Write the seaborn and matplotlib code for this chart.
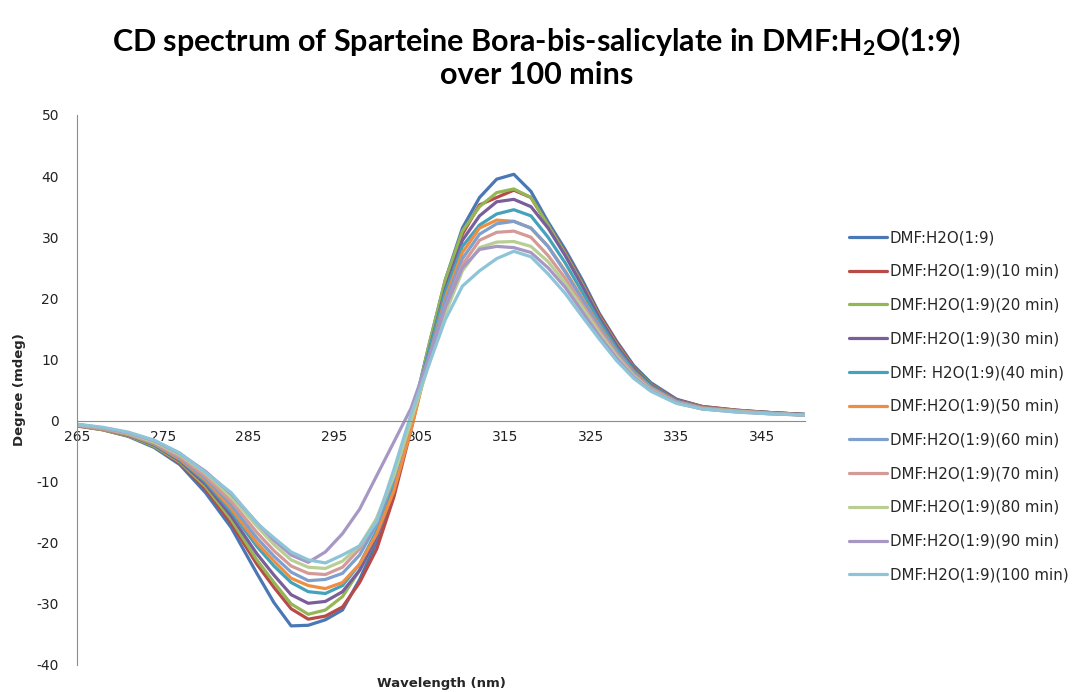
import pandas as pd
import matplotlib
matplotlib.use('Agg')
import matplotlib.pyplot as plt
import seaborn as sns

wavelength = [265, 268, 271, 274, 277, 280, 283, 286, 288, 290, 292, 294, 296, 298, 300, 302, 304, 306,
              308, 310, 312, 314, 316, 318, 320, 322, 324, 326, 328, 330, 332, 335, 338, 342, 346, 350]

t0 = [-0.8, -1.5, -2.6, -4.4, -7.2, -11.8, -17.5, -25.0, -29.8, -33.6, -33.5, -32.6, -31.0, -26.0, -19.8, -10.9, 0.0, 11.8,
      23.0, 31.5, 36.5, 39.5, 40.3, 37.5, 32.5, 28.0, 23.0, 17.5, 13.0, 9.0, 6.2, 3.5, 2.3, 1.7, 1.3, 1.0]
t10 = [-0.9, -1.5, -2.5, -4.2, -7.0, -11.2, -16.8, -23.5, -27.3, -30.8, -32.5, -32.0, -30.5, -26.5, -21.0, -12.5, -1.5, 10.2,
       21.5, 30.5, 35.3, 36.5, 37.7, 36.5, 32.0, 27.5, 22.5, 17.3, 12.8, 8.8, 6.0, 3.4, 2.3, 1.7, 1.3, 1.0]
t20 = [-0.8, -1.5, -2.5, -4.2, -6.8, -10.8, -16.2, -22.8, -26.5, -30.0, -31.7, -31.0, -28.8, -24.5, -19.0, -11.0, -0.5, 11.8,
       23.0, 31.0, 35.0, 37.3, 37.9, 36.5, 32.0, 27.3, 22.3, 17.0, 12.5, 8.6, 5.9, 3.3, 2.2, 1.6, 1.3, 1.0]
t30 = [-0.8, -1.4, -2.4, -4.0, -6.6, -10.4, -15.6, -21.8, -25.3, -28.5, -29.9, -29.6, -28.0, -24.5, -19.0, -11.0, -0.5, 10.8,
       21.5, 29.5, 33.5, 35.8, 36.2, 35.0, 31.5, 27.0, 22.0, 16.8, 12.3, 8.5, 5.8, 3.3, 2.2, 1.6, 1.3, 1.0]
t40 = [-0.8, -1.4, -2.3, -3.9, -6.4, -10.0, -14.9, -20.6, -23.8, -26.5, -28.0, -28.3, -27.0, -23.5, -18.0, -10.0, 0.0, 10.8,
       21.0, 28.5, 32.0, 33.8, 34.5, 33.5, 30.0, 25.8, 21.0, 16.2, 11.8, 8.2, 5.6, 3.2, 2.1, 1.6, 1.2, 0.9]
t50 = [-0.8, -1.4, -2.3, -3.8, -6.3, -9.7, -14.4, -20.0, -23.0, -25.8, -27.0, -27.5, -26.5, -23.5, -18.5, -11.5, -1.5, 9.8,
       20.0, 27.5, 31.5, 32.8, 32.6, 31.5, 28.5, 24.5, 20.0, 15.5, 11.3, 7.9, 5.4, 3.1, 2.1, 1.6, 1.2, 0.9]
t60 = [-0.7, -1.3, -2.2, -3.7, -6.1, -9.4, -13.8, -19.2, -22.2, -24.8, -26.2, -26.0, -25.0, -22.0, -17.0, -9.5, 0.0, 9.8,
       19.5, 26.5, 30.5, 32.2, 32.6, 31.5, 28.5, 24.3, 19.8, 15.3, 11.2, 7.8, 5.3, 3.1, 2.0, 1.5, 1.2, 0.9]
t70 = [-0.7, -1.3, -2.2, -3.6, -5.9, -9.1, -13.2, -18.3, -21.3, -23.8, -25.0, -25.2, -24.0, -21.0, -16.0, -9.0, 0.0, 9.3,
       18.5, 25.5, 29.5, 30.8, 31.0, 30.0, 27.0, 23.3, 19.0, 14.8, 10.8, 7.5, 5.2, 3.0, 2.0, 1.5, 1.2, 0.9]
t80 = [-0.7, -1.2, -2.1, -3.5, -5.6, -8.6, -12.5, -17.3, -20.3, -22.8, -24.0, -24.2, -23.0, -20.5, -16.0, -9.0, 0.0, 8.8,
       17.5, 24.5, 28.3, 29.2, 29.3, 28.5, 26.0, 22.5, 18.5, 14.3, 10.5, 7.3, 5.0, 2.9, 1.9, 1.5, 1.1, 0.9]
t90 = [-0.6, -1.2, -2.0, -3.3, -5.4, -8.3, -12.0, -16.7, -19.6, -22.0, -23.2, -21.5, -18.5, -14.5, -9.0, -3.5, 2.0, 10.0,
       18.5, 25.0, 28.0, 28.5, 28.3, 27.5, 25.0, 21.8, 17.8, 13.8, 10.2, 7.1, 4.9, 2.9, 1.9, 1.4, 1.1, 0.9]
t100 = [-0.6, -1.1, -1.9, -3.2, -5.3, -8.5, -11.8, -16.8, -19.2, -21.5, -22.8, -23.3, -22.0, -20.5, -16.5, -8.0, 1.0, 8.8,
        16.5, 22.0, 24.5, 26.5, 27.7, 26.8, 24.0, 20.8, 17.0, 13.3, 9.8, 6.9, 4.8, 2.8, 1.9, 1.4, 1.1, 0.9]

labels = ['DMF:H2O(1:9)', 'DMF:H2O(1:9)(10 min)', 'DMF:H2O(1:9)(20 min)', 'DMF:H2O(1:9)(30 min)',
          'DMF: H2O(1:9)(40 min)', 'DMF:H2O(1:9)(50 min)', 'DMF:H2O(1:9)(60 min)', 'DMF:H2O(1:9)(70 min)',
          'DMF:H2O(1:9)(80 min)', 'DMF:H2O(1:9)(90 min)', 'DMF:H2O(1:9)(100 min)']
series = [t0, t10, t20, t30, t40, t50, t60, t70, t80, t90, t100]
colors = ['#4A78B4', '#B84A47', '#94B655', '#7A5E9C', '#45A2BB', '#EE8E42',
          '#7F9FCC', '#D49A98', '#B8CE92', '#A797C4', '#8EC4D8']

y_ticks = [-40, -30, -20, -10, 0, 10, 20, 30, 40, 50]
x_ticks = [265, 275, 285, 295, 305, 315, 325, 335, 345]

df = pd.DataFrame({
    'Wavelength': wavelength * len(series),
    'Degree': [v for s in series for v in s],
    'Series': [lab for lab in labels for _ in wavelength],
})

sns.set_style('white')
plt.rcParams['font.family'] = ['DejaVu Sans']
plt.rcParams['axes.unicode_minus'] = False
plt.rcParams['mathtext.fontset'] = 'custom'
plt.rcParams['mathtext.rm'] = 'Lato:bold'
plt.rcParams['mathtext.default'] = 'rm'

fig = plt.figure(figsize=(10.72, 6.92), dpi=100)
ax = fig.add_axes([77 / 1072, 1 - 665 / 692, (805 - 77) / 1072, (665 - 115) / 692])

sns.lineplot(data=df, x='Wavelength', y='Degree', hue='Series', hue_order=labels,
             palette=colors, linewidth=2.3, estimator=None, sort=True, ax=ax)

ax.set_xlim(265, 350)
ax.set_ylim(-40, 50)
ax.set_xticks(x_ticks)
ax.set_yticks(y_ticks)
ax.tick_params(axis='both', length=0, labelsize=10, colors='#222222')
ax.tick_params(axis='y', pad=13)
ax.tick_params(axis='x', pad=7)
for s in ['top', 'right']:
    ax.spines[s].set_visible(False)
ax.spines['bottom'].set_position(('data', 0))
ax.spines['bottom'].set_color('#8c8c8c')
ax.spines['left'].set_color('#8c8c8c')
ax.set_xlabel('')
ax.set_ylabel('')

fig.text(441 / 1072, 1 - 684 / 692, 'Wavelength (nm)', ha='center', va='center',
         fontsize=9.5, fontweight='bold')
fig.text(20 / 1072, 1 - 390 / 692, 'Degree (mdeg)', ha='center', va='center',
         rotation=90, fontsize=9.5, fontweight='bold')

fig.text(537 / 1072, 1 - 41 / 692, r'CD spectrum of Sparteine Bora-bis-salicylate in DMF:H$_2$O(1:9)',
         ha='center', va='center', fontsize=22, fontweight='bold', family='Lato', color='black')
fig.text(537 / 1072, 1 - 75 / 692, 'over 100 mins', ha='center', va='center',
         fontsize=22, fontweight='bold', family='Lato', color='black')

handles, labs = ax.get_legend_handles_labels()
ax.legend(handles, labs, loc='upper left', bbox_to_anchor=(843 / 1072, 1 - 224 / 692),
          bbox_transform=fig.transFigure, frameon=False, fontsize=10.8,
          handlelength=2.5, handletextpad=0.2, labelspacing=1.25, borderaxespad=0)

fig.savefig('out.png', dpi=100)
